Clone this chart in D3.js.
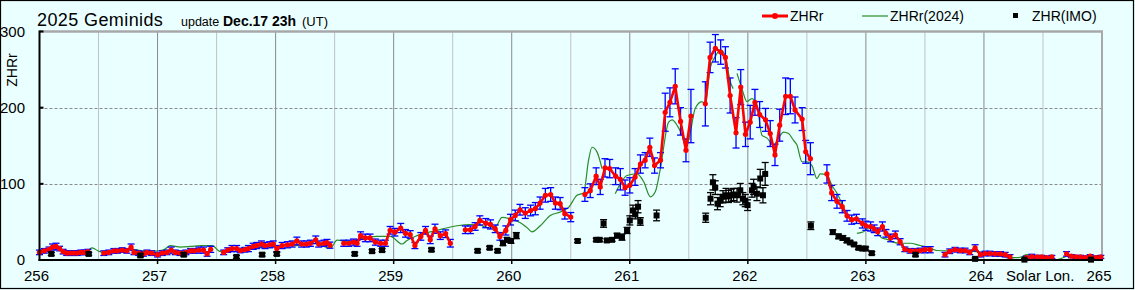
<!DOCTYPE html>
<html><head><meta charset="utf-8">
<script src="https://cdn.jsdelivr.net/npm/d3@7"></script>
<style>html,body{margin:0;padding:0;background:#eaffff;} svg{display:block}</style>
</head><body><svg id="c" width="1135" height="290"></svg>
<script>
// ---- ZHRr (2025) ----
const zhrLon = [
 256.00,256.04,256.08,256.11,256.14,256.17,256.20,256.23,256.26,256.29,256.32,256.35,256.38,256.41,
 256.545,256.587,256.63,256.66,256.70,256.74,256.776,256.80,256.84,256.88,256.91,256.95,257.00,257.04,257.08,257.115,257.15,257.19,257.24,257.28,257.31,257.35,257.39,257.42,257.45,
 257.56,257.594,257.63,257.67,257.70,257.74,257.77,257.81,257.84,257.88,257.91,257.95,257.98,258.01,258.055,258.10,258.14,258.18,258.22,258.26,258.295,258.34,258.365,258.41,258.435,258.46,
 258.577,258.62,258.66,258.69,258.72,258.76,258.80,258.845,258.89,258.93,258.97,259.01,259.06,259.10,259.14,259.18,259.23,259.27,259.31,259.35,259.395,259.44,259.48,
 259.607,259.65,259.69,259.73,259.78,259.82,259.86,259.90,259.95,259.99,260.03,260.07,260.115,260.16,260.20,260.24,260.285,260.33,260.37,260.41,260.45,260.50,
 260.62,260.665,260.715,260.75,260.79,260.83,260.88,260.92,260.96,261.00,261.045,261.09,261.13,261.17,261.21,261.26,261.30,261.34,261.385,261.43,261.476,261.518,
 261.64,261.68,261.725,261.77,261.81,261.85,261.90,261.94,261.98,262.02,262.06,262.10,262.15,262.19,262.23,262.27,262.32,262.36,262.40,262.46,262.49,262.53,
 262.67,262.71,262.755,262.80,262.84,262.88,262.92,262.97,263.00,263.04,263.07,263.10,263.14,263.17,263.21,263.25,263.29,263.33,263.375,263.42,263.46,263.50,263.545,
 263.67,263.71,263.755,263.80,263.84,263.88,263.925,263.97,264.01,264.05,264.095,264.14,264.18,264.22,
 264.36,264.405,264.45,264.49,264.53,264.575,
 264.70,264.74,264.78,264.82,264.86,264.90,264.95,264.99
];
const zhrVal = [
 10,12,14,17,18,15,11,9,9,9,9,10,10,11,
 9,10,12,12,13,12,17,10,9,8,10,9,7,9,10,13,10,9,10,12,12,13,13,8,14,
 10,13,15,15,12.5,13.5,15,18,19,21,19,20,21,15,19,20,21,25,21,21,22,26.5,21,22,23,19.5,
 22,22,23.5,22,32,29,29,23.5,22,22,39,36.5,42,35,33.5,19,31,39,26.5,41,32,34.5,22,
 39.7,39.7,44,52,48.4,46.7,41,31,38.8,53,58.5,66,61.6,65,67.4,74.7,85,86,74.7,74,60.8,56.3,
 86,91,110,96,121,120,110,106,95,98,109,126,131,148,124,131,194,207,228,182,144,189,
 205,266,278,273,266,216,167,227,165,181,207,191,184,166,138,177,215,215,197,185,142,133,
 113,88,77,70,58,53,54,48,45,44,41,37,44,35,29,33,24,14,12,12,12.5,13.5,13.5,
 7,11.5,13.5,12.5,12.5,10,16,7,8.5,8.5,8,8,7,4,
 3,4.5,4,4,3,4,
 8,5,4,4,3,5,3,4
];
const zhrErr = [
 3,3,3,4,4,3,3,3,3,3,3,3,3,3,
 3,3,3,3,3,3,4,3,3,3,3,3,3,3,3,4,3,3,3,3,3,4,4,3,4,
 3,3,4,4,3,3,4,4,4,4,4,4,4,4,4,4,4,5,4,4,4,5,4,4,4,4,
 4,4,4,4,5,5,5,4,4,4,5,5,6,5,5,4,5,5,5,6,5,5,5,
 5,5,5,6,6,6,5,5,6,7,7,7,7,7,8,8,9,9,8,8,7,6,
 9,9,11,10,12,12,11,14,10,10,11,12,10,12,10,10,25,19,23,18,15,35,
 29,20,18,16,14,23,20,23,16,22,17,17,15,17,14,21,24,23,17,15,15,21,
 12,10,9,8,7,6,6,6,6,6,5,5,6,5,5,5,4,3,3,3,3,4,4,
 3,3,3,3,3,3,4,3,3,3,3,3,3,3,
 2,3,2,2,2,2,
 3,2,2,2,2,2,2,2
];

// ---- ZHRr (2024) ---- (null = gap)
const z24Lon = [
 256.00,256.065,256.135,256.19,256.29,256.404,256.446,256.50,256.573,256.658,256.743,256.855,256.968,257.052,257.109,257.194,257.279,257.364,257.462,257.533,257.617,257.70,257.787,257.928,258.013,258.182,258.323,258.464,258.521,258.633,258.746,258.859,258.972,259.071,259.113,259.198,259.367,259.537,259.65,259.734,259.804,259.861,259.918,259.988,260.073,260.13,260.172,260.242,260.327,260.411,260.482,260.553,260.609,260.651,260.68,260.722,260.765,
 260.82,
 260.877,260.919,260.976,261.061,261.117,261.174,261.217,261.259,261.329,261.358,261.40,261.442,261.476,261.512,261.554,261.611,261.639,261.681,261.724,261.767,261.809,261.851,261.876,
 261.89,
 261.908,261.95,261.992,262.035,262.077,262.119,262.162,262.218,262.26,262.302,262.345,262.387,262.416,262.458,262.50,262.543,262.585,262.613,262.67,262.712,262.754,262.797,262.839,
 262.88,
 262.924,262.98,263.02,263.053,263.087,263.135,263.18,263.231,263.29,263.375,263.46,263.52,263.60,263.685,263.77,263.88,263.99,264.078,264.163,264.247,264.306,264.363,264.417,264.518,264.617,264.671,264.73,264.815,264.90,264.992
];
const z24Val = [
 12.5,14.7,17,12.5,11.6,12.5,16,11.6,9,12.5,14.7,12.5,11.6,13.4,19,17,17.8,19,19,11,14,13.4,15,17.8,19,19,22,15.4,26,23.5,29,31,31,21,25.7,32,39,45,46.5,45.6,42,43,56,54,49,42.5,37,45,58.5,63,69,85,88,131,148,142,120,
 null,
 87,100,111,113,103,83,90,120,181,184,177,164,148,167,199,208,204,252,267,276,268,234,225,
 null,
 245,225,208,212,204,164,160,151,160,168,166,157,151,129,129,124,107,113,112,98,88,74,58,
 null,
 35,37,42,44,38,29,27,23.5,22,22,19,17,12.5,12,12.5,11.6,10,8,4.6,3,3.5,7,4,2,0.5,3,6,5,5.5,5.5
];

// ---- ZHR (IMO) ----
const imoLon = [256.10,256.417,256.855,257.222,257.668,257.886,258.01,258.67,258.817,258.902,259.32,259.711,259.813,259.88,259.926,259.96,259.994,260.039,260.558,260.716,260.744,260.778,260.806,260.85,260.892,260.934,260.977,261.00,261.027,261.047,261.07,261.089,261.227,261.643,261.684,261.704,261.724,261.743,261.766,261.789,261.815,261.837,261.86,261.879,261.908,261.936,261.958,261.978,261.998,262.035,262.049,262.077,262.105,262.128,262.147,262.534,262.72,262.768,262.805,262.839,262.867,262.90,262.937,262.969,262.998,263.05,263.42,263.925,264.343,264.907];
const imoVal = [8,8,6,7,4,7,8,8,11.6,13,13.4,12,16,12,22,26.5,25,32,25,26.5,26.5,48,25.7,26.5,32,30,38.8,52,65,60,70,50.6,58.5,55.5,80.5,102,95,74,78,83,85,83.5,85,86,85,91.5,80.5,78,72,91.5,96,87,107,85,113,45,36.6,31,29,25.7,23,20.4,16,15,15,9,7,1.5,0.5,0.5];
const imoErr = [2,2,2,2,2,2,2,2,2,2,2,2,2,2,3,3,3,4,2,2,2,5,2,2,3,4,4,6,7,6,8,5,7,6,8,10,9,8,8,8,9,8,8,8,9,9,8,8,7,9,10,9,12,10,15,5,3,3,3,3,2,2,2,2,2,2,2,1,1,1];

const xTickVals = [256,257,258,259,260,261,262,263,264,265];
const yTickVals = [0,100,200,300];

// ---- drawing ----
const W = 1135, H = 290;
const FONT = "'Liberation Sans', Arial, sans-serif";
const svg = d3.select("#c");
svg.append("rect").attr("width", W).attr("height", H).attr("fill", "#eaffff");
svg.append("rect").attr("x", 0.5).attr("y", 0.5).attr("width", 1133).attr("height", 288)
  .attr("fill", "none").attr("stroke", "#000").attr("stroke-width", 1.2);

const x = d3.scaleLinear().domain([256, 265]).range([39.5, 1102]);
const y = d3.scaleLinear().domain([0, 300]).range([260, 31.5]);

// vertical grid every 0.5
const gridX = x.ticks(18).filter(v => v > 256 && v < 265);
svg.append("g").selectAll("line").data(gridX).join("line")
  .attr("x1", d => x(d)).attr("x2", d => x(d)).attr("y1", y(300)).attr("y2", y(0))
  .attr("stroke", d => Number.isInteger(d) ? "#8a8a8a" : "#c2c2c2").attr("stroke-width", 1);
// horizontal dashed grid
svg.append("g").selectAll("line").data([100, 200]).join("line")
  .attr("x1", x(256)).attr("x2", x(265)).attr("y1", d => Math.round(y(d)) + 0.5).attr("y2", d => Math.round(y(d)) + 0.5)
  .attr("stroke", "#8a8a8a").attr("stroke-dasharray", "3,2").attr("stroke-width", 1);
// top and right grey frame
svg.append("line").attr("x1", x(256)).attr("x2", x(265) + 1).attr("y1", y(300)).attr("y2", y(300))
  .attr("stroke", "#a8a8a8").attr("stroke-width", 2.5);
svg.append("line").attr("x1", x(265)).attr("x2", x(265)).attr("y1", y(300)).attr("y2", y(0))
  .attr("stroke", "#a8a8a8").attr("stroke-width", 2);

// 2024 curve
const line24 = d3.line().defined(d => d[1] !== null).x(d => x(d[0])).y(d => y(d[1])).curve(d3.curveMonotoneX);
svg.append("path").datum(z24Lon.map((l, i) => [l, z24Val[i]]))
  .attr("d", line24).attr("fill", "none").attr("stroke", "#2a8c2a").attr("stroke-width", 1.2);

// ZHRr error bars
const zhr = zhrLon.map((l, i) => ({l, v: zhrVal[i], e: zhrErr[i]}));
const eb = svg.append("g").attr("stroke", "#0000ff").attr("stroke-width", 1.3);
zhr.forEach(d => {
  const cx = x(d.l), y1 = y(d.v + d.e), y2 = y(Math.max(0, d.v - d.e));
  eb.append("line").attr("x1", cx).attr("x2", cx).attr("y1", y1).attr("y2", y2);
  eb.append("line").attr("x1", cx - 3.5).attr("x2", cx + 3.5).attr("y1", y1).attr("y2", y1);
  eb.append("line").attr("x1", cx - 3.5).attr("x2", cx + 3.5).attr("y1", y2).attr("y2", y2);
});
// ZHRr line with breaks between nightly segments
const segs = [];
zhr.forEach((d, i) => {
  if (i === 0 || d.l - zhr[i - 1].l > 0.09) segs.push([]);
  segs[segs.length - 1].push(d);
});
const lineR = d3.line().x(d => x(d.l)).y(d => y(d.v));
svg.append("g").selectAll("path").data(segs).join("path")
  .attr("d", lineR).attr("fill", "none").attr("stroke", "#ff0000").attr("stroke-width", 2.6).attr("stroke-linejoin", "round");
svg.append("g").selectAll("circle").data(zhr).join("circle")
  .attr("cx", d => x(d.l)).attr("cy", d => y(d.v)).attr("r", 2.6).attr("fill", "#ff0000");

// IMO
const imo = imoLon.map((l, i) => ({l, v: imoVal[i], e: imoErr[i]}));
const ib = svg.append("g").attr("stroke", "#000").attr("stroke-width", 1.3);
imo.forEach(d => {
  const cx = x(d.l), y1 = y(d.v + d.e), y2 = y(Math.max(0, d.v - d.e));
  ib.append("line").attr("x1", cx).attr("x2", cx).attr("y1", y1).attr("y2", y2);
  ib.append("line").attr("x1", cx - 3.5).attr("x2", cx + 3.5).attr("y1", y1).attr("y2", y1);
  ib.append("line").attr("x1", cx - 3.5).attr("x2", cx + 3.5).attr("y1", y2).attr("y2", y2);
});
svg.append("g").selectAll("rect").data(imo).join("rect")
  .attr("x", d => x(d.l) - 3).attr("y", d => y(d.v) - 3).attr("width", 6).attr("height", 6).attr("fill", "#000");

// axes lines
svg.append("line").attr("x1", x(256)).attr("x2", x(256)).attr("y1", y(300) - 1).attr("y2", y(0) + 1)
  .attr("stroke", "#000").attr("stroke-width", 2);
svg.append("line").attr("x1", x(256) - 1).attr("x2", x(265) + 1).attr("y1", y(0)).attr("y2", y(0))
  .attr("stroke", "#000").attr("stroke-width", 2.2);
// y ticks
svg.append("g").selectAll("line").data(yTickVals.filter(v => v > 0)).join("line")
  .attr("x1", x(256)).attr("x2", x(256) + 4).attr("y1", d => y(d)).attr("y2", d => y(d))
  .attr("stroke", "#000").attr("stroke-width", 2);
// x ticks
svg.append("g").selectAll("line").data(xTickVals.slice(1, -1)).join("line")
  .attr("x1", d => x(d)).attr("x2", d => x(d)).attr("y1", y(0)).attr("y2", y(0) + 4)
  .attr("stroke", "#000").attr("stroke-width", 1.5);

// y labels
svg.append("g").selectAll("text").data(yTickVals).join("text")
  .attr("x", 25).attr("y", d => y(d)).attr("dy", "0.36em").attr("text-anchor", "end")
  .attr("font-family", FONT).attr("font-size", 15).attr("fill", "#000").text(d => d);
svg.append("text").attr("transform", "translate(17,70) rotate(-90)").attr("text-anchor", "middle")
  .attr("font-family", FONT).attr("font-size", 14).attr("fill", "#000").text("ZHRr");

// x labels
svg.append("g").selectAll("text").data(xTickVals).join("text")
  .attr("x", d => x(d) - 3).attr("y", 281).attr("text-anchor", "middle")
  .attr("font-family", FONT).attr("font-size", 15).attr("fill", "#000").text(d => d);
svg.append("text").attr("x", 1006).attr("y", 281).attr("font-family", FONT).attr("font-size", 15)
  .attr("fill", "#000").text("Solar Lon.");

// title
svg.append("text").attr("x", 37).attr("y", 26).attr("font-family", FONT).attr("font-size", 18)
  .attr("letter-spacing", 0.4).attr("fill", "#000").text("2025 Geminids");
svg.append("text").attr("x", 181).attr("y", 26).attr("font-family", FONT).attr("font-size", 12.5)
  .attr("fill", "#000").text("update");
svg.append("text").attr("x", 223).attr("y", 26).attr("font-family", FONT).attr("font-size", 14)
  .attr("font-weight", "bold").attr("fill", "#000").text("Dec.17 23h");
svg.append("text").attr("x", 302).attr("y", 26).attr("font-family", FONT).attr("font-size", 13)
  .attr("fill", "#000").text("(UT)");

// legend
const lg = svg.append("g");
lg.append("line").attr("x1", 762).attr("x2", 788).attr("y1", 16).attr("y2", 16).attr("stroke", "#ff0000").attr("stroke-width", 3);
lg.append("circle").attr("cx", 775).attr("cy", 16).attr("r", 3).attr("fill", "#ff0000");
lg.append("text").attr("x", 790).attr("y", 16).attr("dy", "0.36em").attr("font-family", FONT).attr("font-size", 14).text("ZHRr");
lg.append("line").attr("x1", 862).attr("x2", 888).attr("y1", 16).attr("y2", 16).attr("stroke", "#2a8c2a").attr("stroke-width", 1.2);
lg.append("text").attr("x", 890).attr("y", 16).attr("dy", "0.36em").attr("font-family", FONT).attr("font-size", 14).text("ZHRr(2024)");
lg.append("rect").attr("x", 1013).attr("y", 13).attr("width", 5).attr("height", 5).attr("fill", "#000");
lg.append("text").attr("x", 1032).attr("y", 16).attr("dy", "0.36em").attr("font-family", FONT).attr("font-size", 14).text("ZHR(IMO)");
</script>
</body></html>
